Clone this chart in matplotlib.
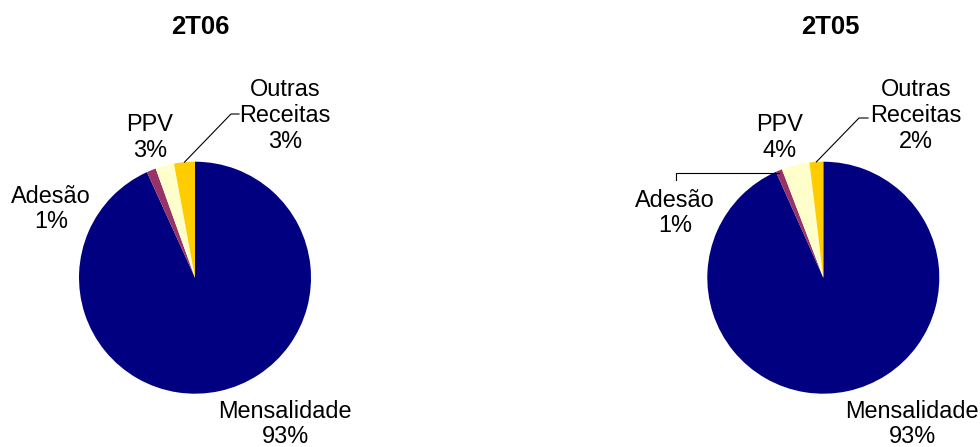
import numpy as np
import matplotlib
matplotlib.use('Agg')
from matplotlib import pyplot as plt

plt.rcParams['font.family'] = ['Liberation Sans', 'DejaVu Sans']

categories = ['Mensalidade', 'Adesão', 'PPV', 'Outras\nReceitas']
colors = ['#000080', '#993366', '#FFFFCC', '#FFCC00']

titles = ['2T06', '2T05']
values_2t06 = [93.2, 1.3, 2.6, 2.9]
values_2t05 = [93.3, 0.9, 3.9, 1.9]
pct_2t06 = ['93%', '1%', '3%', '3%']
pct_2t05 = ['93%', '1%', '4%', '2%']

W, H = 980, 447
fig = plt.figure(figsize=(W / 100, H / 100), dpi=100)
fig.set_facecolor('white')
ax = fig.add_axes([0, 0, 1, 1])

R = 116


def py(y):
    # pixel row (top down) -> data y
    return H - y


def wedge_point(vals, idx, cx, cy):
    cum = np.cumsum([0] + list(vals))
    mid = (cum[idx] + cum[idx + 1]) / 2 / sum(vals)
    ang = np.deg2rad(90 - 360 * mid)
    return cx + R * np.cos(ang), cy + R * np.sin(ang)


fs = 16.9
panels = [
    dict(vals=values_2t06, pct=pct_2t06, cx=195, cy=py(277.7), title_x=200,
         lab=[(285, 424), (51, 209), (150, 137.5), (285, 115.5)]),
    dict(vals=values_2t05, pct=pct_2t05, cx=823.3, cy=py(277.7), title_x=830,
         lab=[(912, 424), (675, 213), (780, 137.5), (916, 115.5)]),
]

for p, title in zip(panels, titles):
    ax.pie(p['vals'], colors=colors, startangle=90, counterclock=False,
           center=(p['cx'], p['cy']), radius=R, frame=True,
           wedgeprops=dict(linewidth=0))
    ax.text(p['title_x'], py(27.5), title, ha='center', va='center',
            fontsize=18.5, fontweight='bold')
    for name, pc, (lx, ly) in zip(categories, p['pct'], p['lab']):
        ax.text(lx, py(ly), name + '\n' + pc, ha='center', va='center',
                fontsize=fs, linespacing=1.15)

ax.set_xlim(0, W)
ax.set_ylim(0, H)
ax.set_aspect('equal')
ax.axis('off')

# leader lines
x0, y0 = wedge_point(values_2t06, 3, panels[0]['cx'], panels[0]['cy'])
ax.plot([x0, 231, 239], [y0, py(114), py(114)], color='black', lw=0.8)

x0, y0 = wedge_point(values_2t05, 3, panels[1]['cx'], panels[1]['cy'])
ax.plot([x0, 859, 868], [y0, py(118), py(118)], color='black', lw=0.8)

x0, y0 = wedge_point(values_2t05, 1, panels[1]['cx'], panels[1]['cy'])
ax.plot([x0, 675.5, 675.5], [py(173), py(173), py(180)], color='black', lw=0.8)

plt.savefig('out.png', dpi=100, facecolor='white')
